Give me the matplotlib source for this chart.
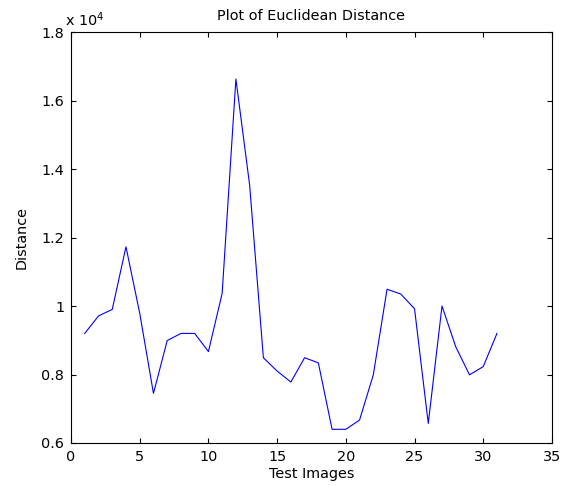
import matplotlib
matplotlib.use('Agg')
import matplotlib.pyplot as plt
from matplotlib.ticker import FuncFormatter, MultipleLocator

plt.rcParams['font.family'] = ['DejaVu Sans']

# test image index and euclidean distance
images = list(range(1, 32))
distance = [9200, 9710, 9900, 11730, 9790, 7450, 8990, 9200, 9200, 8670,
            10370, 16630, 13530, 8490, 8100, 7780, 8490, 8340, 6400, 6400,
            6670, 7990, 10490, 10350, 9920, 6570, 10000, 8810, 7990, 8230,
            9200]

fs = 10.4
fig = plt.figure(figsize=(5.69, 4.86), dpi=100)
ax = fig.add_axes([0.1248, 0.0885, 0.8452, 0.8455])

ax.plot(images, distance, color='#0000ff', linewidth=0.8)

ax.set_xlim(0, 35)
ax.set_ylim(6000, 18000)
ax.xaxis.set_major_locator(MultipleLocator(5))
ax.yaxis.set_major_locator(MultipleLocator(2000))
ax.yaxis.set_major_formatter(FuncFormatter(lambda v, p: '%g' % (v / 1e4)))

ax.tick_params(direction='in', top=True, right=True, labelsize=fs,
               length=3.5, width=0.8)
ax.tick_params(axis='x', pad=5)
ax.tick_params(axis='y', pad=5)
for s in ax.spines.values():
    s.set_linewidth(0.8)

ax.text(-0.012, 1.008, r'x 10$^{4}$', transform=ax.transAxes, fontsize=fs,
        ha='left', va='bottom')

ax.set_title('Plot of Euclidean Distance', fontsize=fs, pad=9)
ax.set_xlabel('Test Images', fontsize=fs, labelpad=2)
ax.set_ylabel('Distance', fontsize=fs, labelpad=9)

fig.savefig('out.png', dpi=100)
